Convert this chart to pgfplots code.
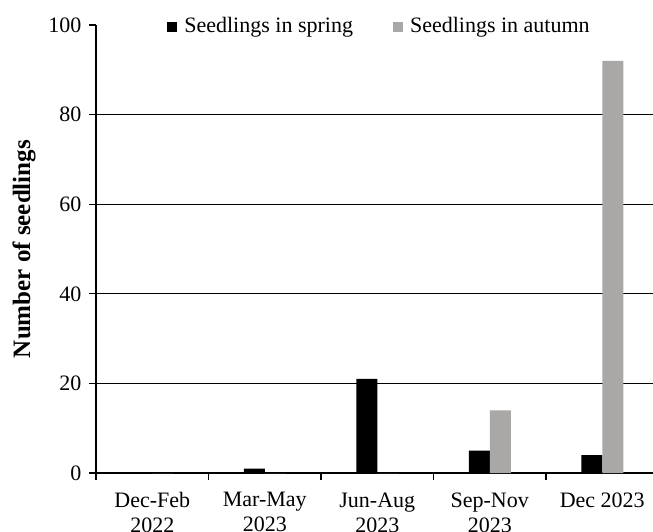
\documentclass[border=0pt]{standalone}
\usepackage{pgfplots}
\pgfplotsset{compat=1.18}
\usepackage{fontspec}
\setmainfont{Liberation Serif}
\definecolor{autumngray}{RGB}{170,168,166}
\begin{document}
\fontsize{22}{25}\selectfont
\begin{tikzpicture}
\begin{axis}[
  scale only axis,
  width=557pt, height=448pt,
  font=\fontsize{22}{25}\selectfont,
  /pgf/number format/assume math mode=true,
  axis lines*=left,
  axis line style={line width=1.3pt},
  xmin=-0.5, xmax=4.451,
  ymin=0, ymax=100,
  ytick={0,20,40,60,80},
  extra y ticks={100},
  extra y tick style={grid=none},
  ymajorgrids=true,
  grid style={black, line width=1.3pt},
  tick style={black, line width=1.3pt},
  tick align=outside,
  major tick length=7pt,
  xtick={-0.5,0.5,1.5,2.5,3.5},
  xticklabels={},
  extra x ticks={0,1,2,3,4},
  extra x tick labels={Dec-Feb\\2022, Mar-May\\2023, Jun-Aug\\2023, Sep-Nov\\2023, Dec 2023},
  extra x tick style={major tick length=0pt, xmajorgrids=false, tick label style={align=center, yshift=-12pt}},
  ylabel={\fontsize{25}{28}\selectfont\textbf{Number of seedlings}},
  ylabel style={at={(axis description cs:-0.129,0.5)}, anchor=center},
  ybar=0pt,
  bar width=21pt,
  legend columns=2,
  legend style={draw=none, fill=none, at={(rel axis cs:0.509,0.996)}, anchor=center,
    /tikz/every even column/.append style={column sep=38pt},
    /tikz/every odd column/.append style={column sep=5pt},
    nodes={inner sep=2pt},
    font=\fontsize{22}{25}\selectfont},
  legend image code/.code={\fill (0pt,-5pt) rectangle (10pt,5pt);},
]
\addplot[fill=black, draw=none] coordinates {(0,0) (1,1) (2,21) (3,5) (4,4)};
\addplot[fill=autumngray, draw=none] coordinates {(0,0) (1,0) (2,0) (3,14) (4,92)};
\legend{Seedlings in spring, Seedlings in autumn}
\end{axis}
\pgfresetboundingbox
\path[use as bounding box] ([xshift=-96pt,yshift=-58pt]current axis.south west) rectangle ([yshift=25pt]current axis.north east);
\end{tikzpicture}
\end{document}
